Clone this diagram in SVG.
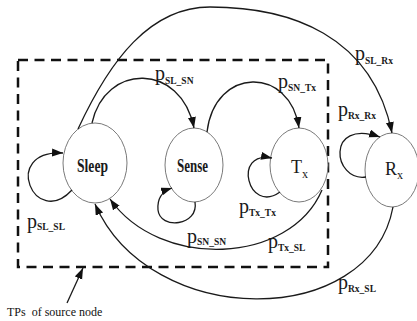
<svg xmlns="http://www.w3.org/2000/svg" width="417" height="321" viewBox="0 0 417 321">
<style>
.node{fill:#fff;stroke:#7a7a7a;stroke-width:1}
.nl{font-family:"Liberation Serif",serif;font-weight:bold;font-size:18px;fill:#1a1a1a}
.nr{font-weight:normal}
.ns{font-size:12px}
.edge{fill:none;stroke:#1a1a1a;stroke-width:1.3}
.box{fill:none;stroke:#111;stroke-width:2.5;stroke-dasharray:10 6.5}
.p{font-family:"Liberation Serif",serif;font-size:20px;fill:#1a1a1a}
.sub{font-size:9.5px;font-weight:bold}
.cap{font-family:"Liberation Serif",serif;font-size:12px;fill:#111}
</style>
<defs>
<marker id="ah" markerWidth="12" markerHeight="9" refX="11" refY="4" orient="auto" markerUnits="userSpaceOnUse">
<path d="M0,0 L11,4 L0,8 z" fill="#111"/>
</marker>
</defs>
<rect width="417" height="321" fill="#fff"/>
<rect id="boundary" class="box" x="18" y="60" width="310" height="207"/>
<g id="sleep"><ellipse class="node" cx="95" cy="163" rx="32" ry="40"/><text class="nl" x="77" y="172" textLength="31" lengthAdjust="spacingAndGlyphs">Sleep</text></g>
<g id="sense"><ellipse class="node" cx="194" cy="165" rx="29" ry="37"/><text class="nl" x="177" y="172" textLength="31" lengthAdjust="spacingAndGlyphs">Sense</text></g>
<g id="tx"><ellipse class="node" cx="299" cy="165" rx="29" ry="37"/><text class="nl nr" x="291" y="173">T<tspan class="ns" dy="5">x</tspan></text></g>
<g id="rx"><ellipse class="node" cx="392" cy="170" rx="27" ry="37"/><text class="nl nr" x="385" y="175">R<tspan class="ns" dy="4">x</tspan></text></g>
<g id="connectors">
<path class="edge" d="M78,129 C110,60 150,7 210,7 C290,7 372,35 392,133" marker-end="url(#ah)"/>
<path class="edge" d="M92,123 C105,63 181,62 194,128" marker-end="url(#ah)"/>
<path class="edge" d="M207,132 C215,66 290,66 299,128" marker-end="url(#ah)"/>
<path class="edge" d="M366,177 C333,182 325,118 380,137" marker-end="url(#ah)"/>
<path class="edge" d="M72,190 C35,230 0,150 63,153" marker-end="url(#ah)"/>
<path class="edge" d="M195,202 C199,226 160,230 158,210 C157,198 163,191 172,188" marker-end="url(#ah)"/>
<path class="edge" d="M280,192 C248,215 232,150 272,158" marker-end="url(#ah)"/>
<path class="edge" d="M322,190 C290,265 160,270 110,199" marker-end="url(#ah)"/>
<path class="edge" d="M393,207 C370,330 150,330 95,204" marker-end="url(#ah)"/>
<path class="edge" d="M67,303 L83,268" marker-end="url(#ah)"/>
</g>
<g id="labels">
<text class="p" x="155" y="80">p<tspan class="sub" dy="4">SL_SN</tspan></text>
<text class="p" x="355" y="60">p<tspan class="sub" dy="4">SL_Rx</tspan></text>
<text class="p" x="278" y="88">p<tspan class="sub" dy="3">SN_Tx</tspan></text>
<text class="p" x="338" y="116">p<tspan class="sub" dy="3">Rx_Rx</tspan></text>
<text class="p" x="27" y="228">p<tspan class="sub" dy="2">SL_SL</tspan></text>
<text class="p" x="187" y="243">p<tspan class="sub" dy="2">SN_SN</tspan></text>
<text class="p" x="239" y="213">p<tspan class="sub" dy="3">Tx_Tx</tspan></text>
<text class="p" x="268" y="248">p<tspan class="sub" dy="3">Tx_SL</tspan></text>
<text class="p" x="338" y="289">p<tspan class="sub" dy="3">Rx_SL</tspan></text>
<text class="cap" x="7" y="316" xml:space="preserve">TPs  of source node</text>
</g>
</svg>
